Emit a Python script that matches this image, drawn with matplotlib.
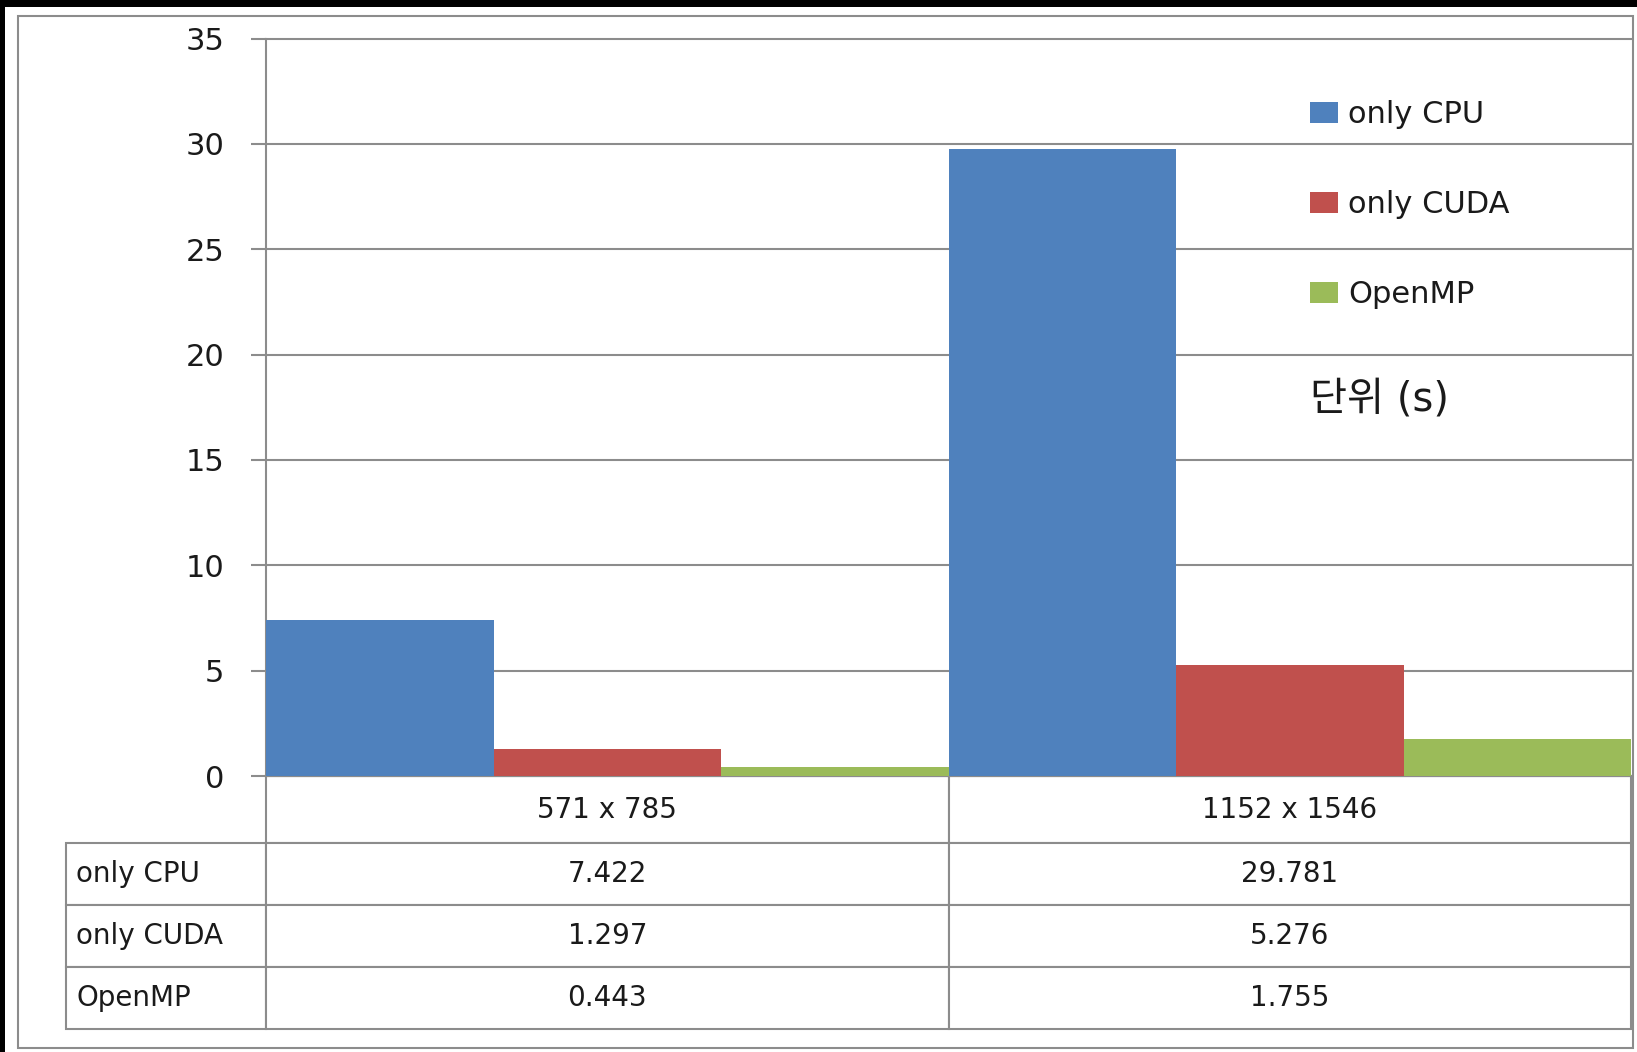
import numpy as np
import matplotlib.pyplot as plt
from matplotlib.patches import Rectangle
from matplotlib.table import Table

plt.rcParams['font.family'] = ['DejaVu Sans', 'Noto Sans CJK KR']

# data
sizes = ["571 x 785", "1152 x 1546"]
methods = ["only CPU", "only CUDA", "OpenMP"]
only_cpu = [7.422, 29.781]
only_cuda = [1.297, 5.276]
openmp = [0.443, 1.755]
yticks = [0, 5, 10, 15, 20, 25, 30, 35]
unit_label = "단위 (s)"

colors = ["#4F81BD", "#C0504D", "#9BBB59"]
grey = "#8c8c8c"
ink = "#1a1a1a"

W, H = 1637, 1052
fig = plt.figure(figsize=(W / 100, H / 100), dpi=100, facecolor="black")

# white sheet with the grey chart frame
fig.add_artist(Rectangle((5 / W, 0), 1, 1 - 7 / H, transform=fig.transFigure,
                         facecolor="white", edgecolor="none", zorder=-2))
fig.add_artist(Rectangle((18 / W, 4 / H), (1633 - 18) / W, (1048 - 16) / H,
                         transform=fig.transFigure, fill=False,
                         edgecolor=grey, lw=1.5, zorder=-1))

ax_h = 776 - 38.6
ax = fig.add_axes([266 / W, (H - 776) / H, 1365 / W, ax_h / H])

series = [only_cpu, only_cuda, openmp]
x = np.arange(len(sizes))
w = 1 / 3
for i, (vals, name, c) in enumerate(zip(series, methods, colors)):
    ax.bar(x + (i - 1) * w, vals, w, color=c, label=name, zorder=3)

ax.set_xlim(-0.5, 1.5)
ax.set_ylim(0, 35)
ax.set_yticks(yticks)
ax.set_xticks([])
ax.yaxis.grid(True, color=grey, lw=1.5)
for gl in ax.get_ygridlines():
    gl.set_clip_on(False)
ax.set_axisbelow(True)
for s in ["top", "right"]:
    ax.spines[s].set_visible(False)
for s in ["left", "bottom"]:
    ax.spines[s].set_color(grey)
    ax.spines[s].set_linewidth(1.5)
ax.tick_params(axis="y", length=11, width=1.5, color=grey, labelsize=22, pad=19,
               labelcolor=ink)

# data table under the chart
row_h = 62 / ax_h
head_h = 67 / ax_h
tbl = Table(ax, bbox=[0, -(head_h + 3 * row_h), 1, head_h + 3 * row_h])
for j, s in enumerate(sizes):
    tbl.add_cell(0, j, width=0.5, height=head_h, text=s, loc="center")
for i, (name, vals) in enumerate(zip(methods, series)):
    c = tbl.add_cell(i + 1, -1, width=200 / 1365, height=row_h, text=name, loc="left")
    c.PAD = 0.05
    for j, v in enumerate(vals):
        tbl.add_cell(i + 1, j, width=0.5, height=row_h, text=f"{v:.3f}", loc="center")
tbl.auto_set_font_size(False)
tbl.set_fontsize(20)
for cell in tbl.get_celld().values():
    cell.set_edgecolor(grey)
    cell.set_linewidth(1.5)
    cell.get_text().set_color(ink)
ax.add_table(tbl)

ax.legend(loc="upper left", bbox_to_anchor=((1310 - 266) / 1365, (776 - 100) / ax_h),
          frameon=False, fontsize=22, labelspacing=2.0, handlelength=0.9,
          handleheight=0.7, handletextpad=0.35, borderpad=0, borderaxespad=0,
          labelcolor=ink)
ax.text((1310 - 266) / 1365, (776 - 400) / ax_h, unit_label, fontsize=29,
        va="center", ha="left", transform=ax.transAxes, color=ink)

fig.savefig("out.png", dpi=100, facecolor=fig.get_facecolor())
